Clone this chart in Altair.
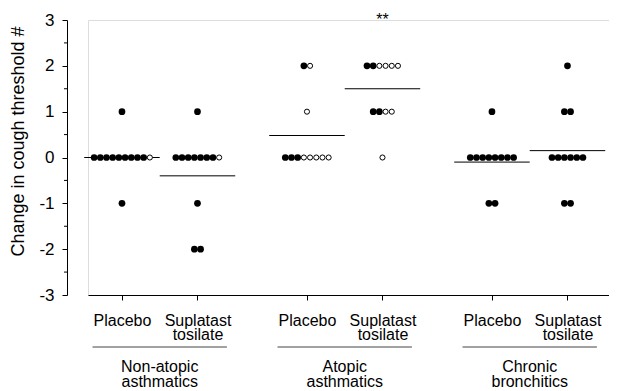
import altair as alt
import pandas as pd

# ---- data ----
groups = ["Non-atopic\nasthmatics", "Atopic\nasthmatics", "Chronic\nbronchitics"]
treatments = ["Placebo", "Suplatast tosilate"]

na_placebo_filled = [1, 0, 0, 0, 0, 0, 0, 0, 0, 0, -1]
na_placebo_open = [0]
na_suplatast_filled = [1, 0, 0, 0, 0, 0, 0, 0, -1, -2, -2]
na_suplatast_open = [0]
at_placebo_filled = [2, 0, 0, 0]
at_placebo_open = [2, 1, 0, 0, 0, 0, 0]
at_suplatast_filled = [2, 2, 1, 1]
at_suplatast_open = [2, 2, 2, 2, 1, 1, 0]
cb_placebo_filled = [1, 0, 0, 0, 0, 0, 0, 0, 0, -1, -1]
cb_placebo_open = []
cb_suplatast_filled = [2, 1, 1, 0, 0, 0, 0, 0, 0, -1, -1]
cb_suplatast_open = []

mean_values = [0.0, -0.4, 0.48, 1.5, -0.1, 0.15]
significance = ["", "", "", "**", "", ""]

y_ticks = [-3, -2, -1, 0, 1, 2, 3]
y_minor = [-2.5, -1.5, -0.5, 0.5, 1.5, 2.5]

# ---- layout helpers ----
GROUP_STEP = 2.45
SPACING = 0.082
AXIS_OFFSET = 21
conditions = [
    (0, 0, na_placebo_filled, na_placebo_open),
    (0, 1, na_suplatast_filled, na_suplatast_open),
    (1, 0, at_placebo_filled, at_placebo_open),
    (1, 1, at_suplatast_filled, at_suplatast_open),
    (2, 0, cb_placebo_filled, cb_placebo_open),
    (2, 1, cb_suplatast_filled, cb_suplatast_open),
]

pts = []
cond_rows = []
for ci, (g, t, filled, opened) in enumerate(conditions):
    pos = g * GROUP_STEP + t
    cond_rows.append({"pos": pos, "x1": pos - 0.5, "x2": pos + 0.5,
                      "mean": mean_values[ci], "sig": significance[ci],
                      "label": treatments[t]})
    values = sorted(set(filled) | set(opened))
    for v in values:
        items = [("filled", v) for f in filled if f == v] + [("open", v) for o in opened if o == v]
        n = len(items)
        for k, (kind, val) in enumerate(items):
            pts.append({"x": pos + (k - (n - 1) / 2) * SPACING, "y": val, "kind": kind})

pts_df = pd.DataFrame(pts)
cond_df = pd.DataFrame(cond_rows)
grp_df = pd.DataFrame({
    "center": [g * GROUP_STEP + 0.5 for g in range(3)],
    "name": groups,
})
grp_df["x1"] = grp_df["center"] - 0.89
grp_df["x2"] = grp_df["center"] + 0.89

tick_vals = list(cond_df["pos"])
placebo_vals = [p for p, l in zip(cond_df["pos"], cond_df["label"]) if l == "Placebo"]
cond_expr = " || ".join(f"abs(datum.value - {v}) < 0.01" for v in placebo_vals)

FONT = "Liberation Sans"
H = 275
xscale = alt.Scale(domain=[-0.45, 6.45], nice=False, zero=False)
yscale = alt.Scale(domain=[-3, 3], nice=False, zero=False)

x_axis = alt.Axis(values=tick_vals, title=None, grid=False,
                  labelExpr=f"({cond_expr}) ? 'Placebo' : ['Suplatast', 'tosilate']",
                  labelFont=FONT, labelFontSize=16, labelColor="black",
                  labelBaseline="middle", labelLineHeight=14, labelPadding=20,
                  labelOverlap=False, labelFlush=False,
                  tickSize=5, tickColor="black", domainColor="black",
                  domainWidth=1, tickWidth=1)

y_axis = alt.Axis(values=y_ticks, title="Change in cough threshold #", orient="left",
                  offset=AXIS_OFFSET, grid=False, labelFont=FONT, labelFontSize=17,
                  labelExpr="datum.value < 0 ? '-' + abs(datum.value) : '' + datum.value",
                  labelColor="black", labelPadding=8, tickSize=5, tickColor="black",
                  domainColor="black", titleFont=FONT, titleFontSize=18,
                  titleFontWeight="normal", titleColor="black",
                  titleX=-40, titleY=121, titleAngle=-90, titleBaseline="bottom")

X = lambda f: alt.X(f, scale=xscale, axis=x_axis)
Y = lambda f: alt.Y(f, scale=yscale, axis=y_axis)

minor = alt.Chart(pd.DataFrame({"v": y_minor})).mark_rule(color="black", strokeWidth=1).encode(
    y=Y("v:Q"), x=alt.value(-AXIS_OFFSET - 3), x2=alt.value(-AXIS_OFFSET)
)

means = alt.Chart(cond_df).mark_rule(color="black", strokeWidth=1).encode(
    x=X("x1:Q"), x2="x2:Q", y=Y("mean:Q"),
)

base_pts = alt.Chart(pts_df)

filled_pts = base_pts.transform_filter(alt.datum.kind == "filled").mark_point(
    shape="circle", filled=True, size=45, color="black", opacity=1
).encode(x=X("x:Q"), y=Y("y:Q"))

open_pts = base_pts.transform_filter(alt.datum.kind == "open").mark_point(
    shape="circle", filled=False, size=26, fill="white", stroke="black",
    strokeWidth=1, opacity=1, fillOpacity=1
).encode(x=X("x:Q"), y=Y("y:Q"))

sig = alt.Chart(cond_df).mark_text(
    font=FONT, fontSize=16, color="black", baseline="alphabetic", align="center"
).encode(x=X("pos:Q"), y=alt.value(5), text="sig:N")

underline = alt.Chart(grp_df).mark_rule(color="#444", strokeWidth=1).encode(
    x=X("x1:Q"), x2="x2:Q", y=alt.value(H + 52)
)

grp_text = alt.Chart(grp_df).mark_text(
    font=FONT, fontSize=16, color="black", baseline="top", align="center",
    lineBreak="\n", lineHeight=15
).encode(x=X("center:Q"), y=alt.value(H + 64), text="name:N")

chart = alt.layer(means, minor, filled_pts, open_pts, sig, underline, grp_text).properties(
    width=521, height=H, autosize=alt.AutoSizeParams(type="none"),
    padding={"left": 80, "top": 12, "right": 0, "bottom": 96},
).configure_view(stroke=None).configure(background="white")

chart.save("out.html", embed_options={"renderer": "svg", "actions": False})
